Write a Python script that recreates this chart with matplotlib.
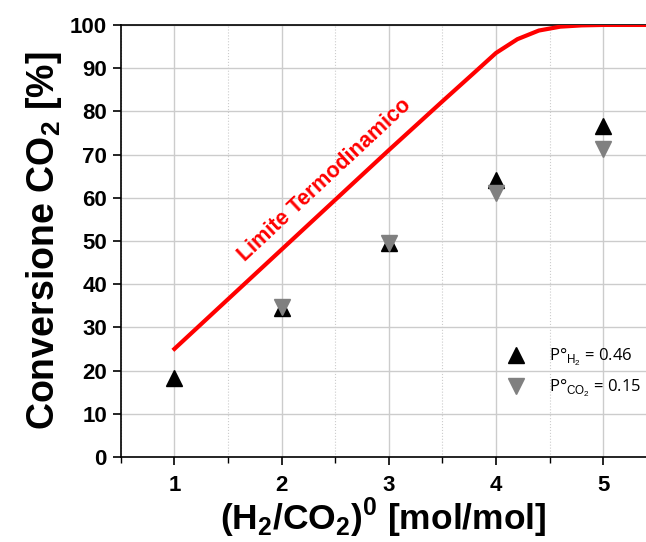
import matplotlib

matplotlib.use("Agg")
import matplotlib.pyplot as plt
from matplotlib.ticker import MultipleLocator

# data
ratio_h2 = [1, 2, 3, 4, 5]
conv_h2 = [18.3, 34.5, 49.6, 64.0, 76.6]
ratio_co2 = [2, 3, 4, 5]
conv_co2 = [34.8, 49.6, 61.0, 71.3]
limit_x = [1.0, 1.5, 2.0, 2.5, 3.0, 3.5, 3.8, 4.0, 4.2, 4.4, 4.6, 4.8, 5.0, 5.4]
limit_y = [25.0, 36.5, 48.0, 59.5, 71.0, 82.3, 89.0, 93.5, 96.7, 98.7, 99.6, 99.9, 100.0, 100.0]

plt.rcParams["font.family"] = ["Liberation Sans", "DejaVu Sans"]
plt.rcParams["mathtext.fontset"] = "custom"
plt.rcParams["mathtext.rm"] = "Liberation Sans"
plt.rcParams["mathtext.bf"] = "Liberation Sans:bold"

fig = plt.figure(figsize=(6.46, 5.42), dpi=100)
ax = fig.add_axes([0.187, 0.157, 0.813, 0.797])

ax.plot(limit_x, limit_y, color="#ff0000", linewidth=3, zorder=3)
ax.plot(ratio_h2, conv_h2, linestyle="none", marker="^", markersize=11,
        color="black", label=r"P°$_{\mathrm{H}_{2}}$ = 0.46", zorder=4)
ax.plot(ratio_co2, conv_co2, linestyle="none", marker="v", markersize=11,
        color="#808080", label=r"P°$_{\mathrm{CO}_{2}}$ = 0.15", zorder=5)

ax.text(2.4, 64.0, "Limite Termodinamico", color="#ff0000", fontsize=15.5,
        fontweight="bold", rotation=43, ha="center", va="center")

ax.set_xlim(0.5, 5.4)
ax.set_ylim(0, 100)
ax.xaxis.set_major_locator(MultipleLocator(1))
ax.xaxis.set_minor_locator(MultipleLocator(0.5))
ax.yaxis.set_major_locator(MultipleLocator(10))

ax.grid(which="major", color="#cccccc", linewidth=1.0)
ax.grid(which="minor", axis="x", color="#cccccc", linewidth=0.8, linestyle=":")
ax.set_axisbelow(True)

ax.spines["right"].set_visible(False)
for side in ["left", "bottom", "top"]:
    ax.spines[side].set_linewidth(1.2)

ax.tick_params(which="major", direction="out", length=6, width=1.2, labelsize=16, pad=4)
ax.tick_params(axis="x", which="major", pad=7)
ax.tick_params(which="minor", direction="out", length=4, width=1.0)
for lab in ax.get_xticklabels() + ax.get_yticklabels():
    lab.set_fontweight("bold")

ax.set_xlabel(r"(H$_\mathbf{2}$/CO$_\mathbf{2}$)$^\mathbf{0}$ [mol/mol]",
              fontsize=25.5, fontweight="bold", labelpad=0)
ax.set_ylabel(r"Conversione CO$_\mathbf{2}$ [%]", fontsize=27, fontweight="bold", labelpad=4)

ax.legend(loc="lower right", bbox_to_anchor=(1.02, 0.1), frameon=False,
          handletextpad=1.0, labelspacing=0.6,
          prop={"family": "Open Sans", "size": 12})

fig.savefig("out.png", dpi=100)
